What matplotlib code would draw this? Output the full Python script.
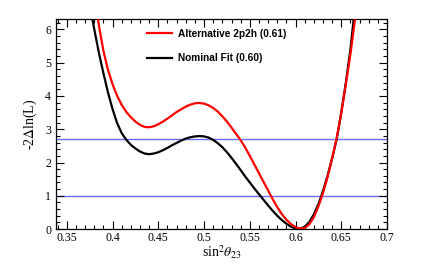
import numpy as np
import matplotlib
matplotlib.use('Agg')
import matplotlib.pyplot as plt
from matplotlib.ticker import MultipleLocator

# values
nominal_x = [0.378, 0.38, 0.385, 0.39, 0.395, 0.40, 0.405, 0.41, 0.415, 0.42, 0.425, 0.43,
             0.435, 0.44, 0.445, 0.45, 0.455, 0.46, 0.465, 0.47, 0.475, 0.48, 0.485, 0.49,
             0.495, 0.50, 0.505, 0.51, 0.515, 0.52, 0.525, 0.53, 0.535, 0.54, 0.545, 0.55,
             0.555, 0.56, 0.565, 0.57, 0.575, 0.58, 0.585, 0.59, 0.595, 0.60, 0.605, 0.61,
             0.615, 0.62, 0.625, 0.63, 0.635, 0.64, 0.645, 0.65, 0.655, 0.66, 0.6635]
nominal_y = [6.3, 6.0, 5.3, 4.68, 4.1, 3.6, 3.18, 2.88, 2.68, 2.53, 2.42, 2.33,
             2.27, 2.25, 2.27, 2.31, 2.37, 2.44, 2.52, 2.59, 2.66, 2.72, 2.76, 2.785,
             2.795, 2.785, 2.75, 2.68, 2.58, 2.46, 2.31, 2.14, 1.96, 1.77, 1.58, 1.40,
             1.22, 1.05, 0.88, 0.71, 0.55, 0.40, 0.27, 0.16, 0.07, 0.02, 0.005, 0.07,
             0.21, 0.44, 0.75, 1.14, 1.6, 2.13, 2.7, 3.5, 4.4, 5.4, 6.3]

alt_x = [0.384, 0.385, 0.39, 0.395, 0.40, 0.405, 0.41, 0.415, 0.42, 0.425, 0.43, 0.435,
         0.44, 0.445, 0.45, 0.455, 0.46, 0.465, 0.47, 0.475, 0.48, 0.485, 0.49, 0.495,
         0.50, 0.505, 0.51, 0.515, 0.52, 0.525, 0.53, 0.535, 0.54, 0.545, 0.55, 0.555,
         0.56, 0.565, 0.57, 0.575, 0.58, 0.585, 0.59, 0.595, 0.60, 0.605, 0.61, 0.615,
         0.62, 0.625, 0.63, 0.635, 0.64, 0.645, 0.65, 0.655, 0.66, 0.665]
alt_y = [6.3, 6.12, 5.35, 4.78, 4.35, 4.0, 3.73, 3.52, 3.36, 3.23, 3.13, 3.07,
         3.06, 3.09, 3.15, 3.23, 3.32, 3.42, 3.52, 3.60, 3.68, 3.74, 3.78, 3.79,
         3.77, 3.72, 3.64, 3.53, 3.39, 3.23, 3.05, 2.86, 2.67, 2.45, 2.2, 1.94,
         1.68, 1.42, 1.16, 0.9, 0.66, 0.45, 0.28, 0.15, 0.06, 0.01, 0.03, 0.14,
         0.36, 0.68, 1.08, 1.56, 2.12, 2.74, 3.48, 4.35, 5.25, 6.3]

ref_levels = [1.0, 2.7]
xtick_vals = [0.35, 0.4, 0.45, 0.5, 0.55, 0.6, 0.65, 0.7]
xtick_labels = ['0.35', '0.4', '0.45', '0.5', '0.55', '0.6', '0.65', '0.7']
ytick_vals = [0, 1, 2, 3, 4, 5, 6]

plt.rcParams['mathtext.fontset'] = 'stix'
serif = 'Liberation Serif'

fig = plt.figure(figsize=(4.3, 2.73), dpi=100)
ax = fig.add_axes([0.130, 0.161, 0.770, 0.7676])

for lv in ref_levels:
    ax.axhline(lv, color='#6b6bff', lw=1.0, zorder=1)

ax.plot(alt_x, alt_y, color='#ff0000', lw=1.6, label='Alternative 2p2h (0.61)', zorder=3)
ax.plot(nominal_x, nominal_y, color='black', lw=1.6, label='Nominal Fit (0.60)', zorder=2)

ax.set_xlim(0.338, 0.7)
ax.set_ylim(0, 6.3)

ax.set_xticks(xtick_vals)
ax.set_xticklabels(xtick_labels, family=serif, fontsize=8.5)
ax.set_yticks(ytick_vals)
ax.set_yticklabels([str(v) for v in ytick_vals], family=serif, fontsize=8.5)
ax.xaxis.set_minor_locator(MultipleLocator(0.01))
ax.yaxis.set_minor_locator(MultipleLocator(0.2))
ax.tick_params(which='both', direction='in', top=True, right=True, width=0.8)
ax.tick_params(which='major', length=6)
ax.tick_params(axis='x', which='major', pad=2)
ax.tick_params(which='minor', length=3)
for sp in ax.spines.values():
    sp.set_linewidth(0.9)

ax.set_xlabel(r'sin$^{2}\theta_{23}$', family=serif, fontsize=10, labelpad=0)
ax.set_ylabel(r'-2$\Delta$ln(L)', family=serif, fontsize=10, labelpad=4)

leg = ax.legend(loc='upper left', bbox_to_anchor=(0.274, 0.955), frameon=False,
                borderpad=0, borderaxespad=0, handlelength=2.5, handletextpad=0.6,
                labelspacing=1.4, prop={'family': 'Liberation Sans', 'weight': 'bold', 'size': 7.3})

fig.savefig('out.png', dpi=100)
